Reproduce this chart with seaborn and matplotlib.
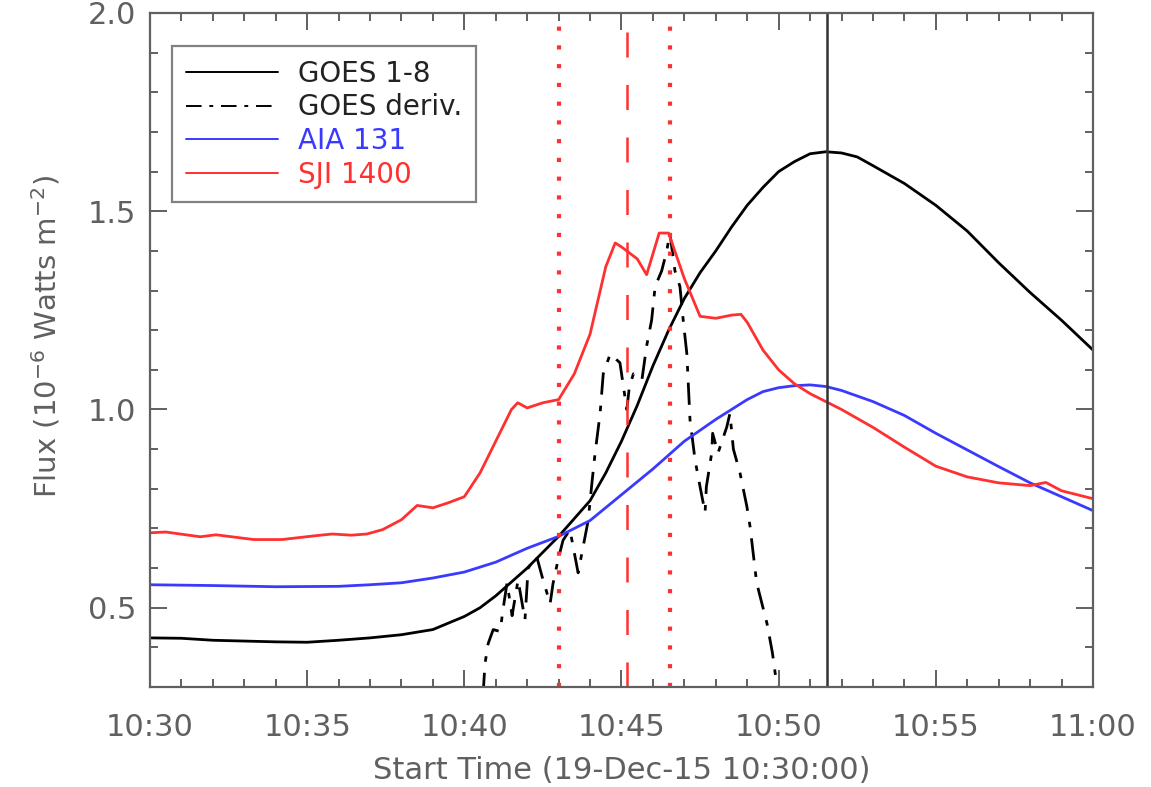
import numpy as np
import pandas as pd
import matplotlib
matplotlib.use("Agg")
import matplotlib.pyplot as plt
import seaborn as sns
from matplotlib.ticker import MultipleLocator


# minutes after 10:30:00 UT, 19-Dec-2015
GOES_T = [0, 1, 2, 3, 4, 5, 6, 7, 8, 9, 10, 10.5, 11, 11.5, 12, 12.5, 13, 13.5,
          14, 14.5, 15, 15.5, 16, 16.5, 17, 17.5, 18, 18.5, 19, 19.5, 20, 20.5,
          21, 21.5, 22, 22.5, 23, 24, 25, 26, 27, 28, 29, 30]
GOES_FLUX = [0.424, 0.423, 0.418, 0.416, 0.414, 0.413, 0.418, 0.424, 0.432, 0.445,
             0.478, 0.500, 0.530, 0.565, 0.600, 0.640, 0.680, 0.725, 0.770, 0.840,
             0.920, 1.010, 1.110, 1.200, 1.280, 1.345, 1.400, 1.460, 1.515, 1.560,
             1.600, 1.625, 1.645, 1.650, 1.647, 1.637, 1.615, 1.570, 1.515, 1.450,
             1.370, 1.295, 1.225, 1.150]

DERIV_T = [10.6, 10.62, 10.66, 10.76, 10.92, 11.14, 11.23, 11.36, 11.52, 11.71,
           11.93, 12.03, 12.3, 12.47, 12.73, 12.82, 12.98, 13.14, 13.36, 13.62,
           13.78, 13.94, 14.06, 14.16, 14.32, 14.42, 14.64, 14.95, 15.17, 15.25,
           15.38, 15.65, 15.8, 15.96, 16.07, 16.28, 16.44, 16.54, 16.7, 16.86,
           16.97, 17.08, 17.13, 17.18, 17.34, 17.5, 17.66, 17.7, 17.87, 17.9,
           18.07, 18.35, 18.45, 18.56, 18.77, 18.99, 19.09, 19.3, 19.63, 19.8,
           19.95, 20.1]
DERIV_FLUX = [0.28, 0.311, 0.36, 0.41, 0.445, 0.44, 0.495, 0.563, 0.48, 0.57,
              0.47, 0.60, 0.63, 0.58, 0.51, 0.56, 0.62, 0.67, 0.697, 0.588,
              0.654, 0.72, 0.815, 0.89, 0.99, 1.09, 1.14, 1.118, 1.0, 1.057,
              1.09, 1.075, 1.16, 1.226, 1.31, 1.35, 1.40, 1.445, 1.35, 1.31,
              1.22, 1.14, 1.057, 0.974, 0.873, 0.805, 0.74, 0.805, 0.89, 0.94,
              0.89, 0.956, 0.99, 0.90, 0.84, 0.755, 0.705, 0.563, 0.46, 0.387,
              0.30, 0.22]

AIA_T = [0, 2, 4, 6, 7, 8, 9, 10, 11, 12, 13, 14, 15, 16, 17, 18, 19, 19.5, 20,
         20.5, 21, 21.5, 22, 23, 24, 25, 26, 27, 28, 29, 30]
AIA_FLUX = [0.558, 0.556, 0.553, 0.554, 0.558, 0.563, 0.575, 0.590, 0.615, 0.650,
            0.680, 0.720, 0.785, 0.850, 0.920, 0.975, 1.025, 1.045, 1.055, 1.060,
            1.062, 1.058, 1.048, 1.020, 0.985, 0.940, 0.898, 0.856, 0.815, 0.780,
            0.745]

SJI_T = [0, 0.5, 1.6, 2.1, 2.6, 3.3, 4.2, 5.3, 5.8, 6.4, 6.9, 7.4, 8, 8.5, 9,
         9.5, 10, 10.5, 11, 11.5, 11.7, 12, 12.5, 13, 13.5, 14, 14.5, 14.8, 15,
         15.5, 15.8, 16.2, 16.5, 17, 17.5, 18, 18.5, 18.8, 19, 19.5, 20, 20.5,
         21, 22, 23, 24, 25, 26, 27, 28, 28.5, 29, 30]
SJI_FLUX = [0.689, 0.691, 0.679, 0.684, 0.679, 0.672, 0.672, 0.682, 0.686, 0.683,
            0.686, 0.697, 0.722, 0.758, 0.752, 0.765, 0.780, 0.840, 0.920, 1.000,
            1.017, 1.004, 1.017, 1.025, 1.090, 1.190, 1.360, 1.420, 1.410, 1.380,
            1.340, 1.445, 1.445, 1.330, 1.235, 1.230, 1.238, 1.240, 1.220, 1.150,
            1.100, 1.065, 1.040, 1.000, 0.955, 0.905, 0.857, 0.830, 0.815, 0.808,
            0.816, 0.795, 0.775]

# vertical markers: dotted, dashed, dotted (red) and GOES peak (black)
EVENT_T = [13.0, 15.18, 16.55, 21.54]

TICK_MIN = [0, 5, 10, 15, 20, 25, 30]
TICK_LABELS = ["10:30", "10:35", "10:40", "10:45", "10:50", "10:55", "11:00"]

BLUE = "#3a3aff"
RED = "#ff3030"
GREY = "#606060"

sns.set_theme(style="ticks")
plt.rcParams["font.family"] = ["DejaVu Sans"]

fig = plt.figure(figsize=(11.51, 7.87), dpi=100)
ax = fig.add_axes([0.1303, 0.127, 0.8193, 0.8565])

sns.lineplot(x=GOES_T, y=GOES_FLUX, color="black", lw=2.0, ax=ax,
             estimator=None, sort=False, label="GOES 1-8")
sns.lineplot(x=DERIV_T, y=DERIV_FLUX, color="black", lw=2.0, ax=ax,
             estimator=None, sort=False, label="GOES deriv.",
             linestyle=(0, (8, 4, 2, 4)))
sns.lineplot(x=AIA_T, y=AIA_FLUX, color=BLUE, lw=2.0, ax=ax,
             estimator=None, sort=False, label="AIA 131")
sns.lineplot(x=SJI_T, y=SJI_FLUX, color=RED, lw=2.0, ax=ax,
             estimator=None, sort=False, label="SJI 1400")

ax.axvline(EVENT_T[0], color=RED, lw=3.0, linestyle=(0, (1, 3.5)))
ax.axvline(EVENT_T[1], color=RED, lw=1.8, linestyle=(0, (10, 11)))
ax.axvline(EVENT_T[2], color=RED, lw=3.0, linestyle=(0, (1, 3.5)))
ax.axvline(EVENT_T[3], color="#333333", lw=1.8)

ax.set_xlim(0, 30)
ax.set_ylim(0.3, 2.0)
ax.set_xticks(TICK_MIN, TICK_LABELS)
ax.xaxis.set_minor_locator(MultipleLocator(1))
ax.yaxis.set_major_locator(MultipleLocator(0.5))
ax.yaxis.set_minor_locator(MultipleLocator(0.1))

for s in ax.spines.values():
    s.set_visible(True)
    s.set_color(GREY)
    s.set_linewidth(1.6)

ax.tick_params(which="both", direction="in", top=True, right=True,
               color=GREY, width=1.4, labelcolor=GREY, labelsize=22)
ax.tick_params(which="major", length=12)
ax.tick_params(which="minor", length=6)
ax.tick_params(axis="x", pad=19)
ax.tick_params(axis="y", pad=10)

ax.set_xlabel("Start Time (19-Dec-15 10:30:00)", fontsize=22, color=GREY, labelpad=10)
ax.set_ylabel("Flux (10$^{-6}$ Watts m$^{-2}$)", fontsize=21, color=GREY)
ax.yaxis.set_label_coords(-0.093, 0.52)

leg = ax.legend(loc="upper left", bbox_to_anchor=(0.0233, 0.951), borderaxespad=0,
                fontsize=20, frameon=True, fancybox=False, handlelength=3.3,
                handletextpad=0.72, labelspacing=0.2, borderpad=0.5)
leg.get_frame().set_edgecolor(GREY)
leg.get_frame().set_linewidth(1.6)
for txt, c in zip(leg.get_texts(), ["#222222", "#222222", BLUE, RED]):
    txt.set_color(c)
for h in leg.get_lines():
    h.set_linewidth(1.4)

fig.savefig("out.png", dpi=100)
